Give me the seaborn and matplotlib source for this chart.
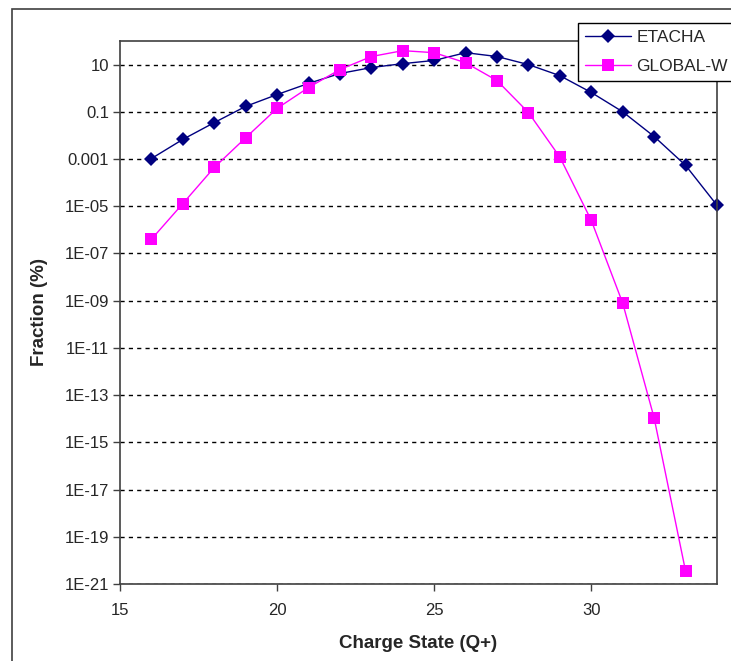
import matplotlib
matplotlib.use('Agg')
import matplotlib.pyplot as plt
import matplotlib.patches as mpatches
import pandas as pd
import seaborn as sns

# charge states and fractions (%)
charge = list(range(16, 35))
etacha = [1.05e-3, 6.8e-3, 0.035, 0.17, 0.54, 1.6, 4.2, 7.5, 11, 15, 32, 22, 10, 3.4, 0.66, 0.1, 9e-3, 5.4e-4, 1.1e-5]
charge_g = list(range(16, 34))
global_w = [4e-7, 1.3e-5, 4.4e-4, 8e-3, 0.14, 1.07, 6.2, 22, 39, 32, 12, 2.1, 0.093, 1.2e-3, 2.5e-6, 7.8e-10, 1.07e-14, 3.5e-21]

ytick_vals = [1e-21, 1e-19, 1e-17, 1e-15, 1e-13, 1e-11, 1e-9, 1e-7, 1e-5, 1e-3, 0.1, 10]
ytick_labels = ['1E-21', '1E-19', '1E-17', '1E-15', '1E-13', '1E-11', '1E-09', '1E-07', '1E-05', '0.001', '0.1', '10']
xtick_vals = [15, 20, 25, 30]

df = pd.concat([
    pd.DataFrame({'Charge': charge, 'Fraction': etacha, 'Model': 'ETACHA'}),
    pd.DataFrame({'Charge': charge_g, 'Fraction': global_w, 'Model': 'GLOBAL-W'}),
])

sns.set_style('white')
plt.rcParams['font.family'] = ['Liberation Sans', 'DejaVu Sans']

fig = plt.figure(figsize=(7.31, 6.61), dpi=100)
ax = fig.add_axes([120/731, 1-584/661, (717-120)/731, (584-41)/661])

sns.lineplot(data=df, x='Charge', y='Fraction', hue='Model', style='Model',
             palette={'ETACHA': '#000080', 'GLOBAL-W': '#FF00FF'},
             markers={'ETACHA': 'D', 'GLOBAL-W': 's'}, dashes=False,
             markersize=7, markeredgewidth=0, linewidth=1, ax=ax, legend=False)
for ln in ax.lines:
    if ln.get_marker() == 's':
        ln.set_markersize(8)
    ln.set_clip_on(False)

ax.set_yscale('log')
ax.set_ylim(1e-21, 100)
ax.set_xlim(15, 34)
ax.set_yticks(ytick_vals)
ax.set_yticklabels(ytick_labels)
ax.minorticks_off()
ax.set_xticks(xtick_vals)
ax.tick_params(axis='both', direction='out', length=5, width=1, color='#404040',
               labelsize=12, left=True, bottom=True)
ax.tick_params(axis='x', pad=9)
ax.tick_params(axis='y', pad=3)
ax.yaxis.grid(True, linestyle=(0, (3, 3)), color='black', linewidth=1)
ax.xaxis.grid(False)
for s in ax.spines.values():
    s.set_color('#404040')
    s.set_linewidth(1.2)

ax.set_xlabel('Charge State (Q+)', fontsize=13.5, fontweight='bold', labelpad=12)
ax.set_ylabel('Fraction (%)', fontsize=13.5, fontweight='bold', labelpad=12)

handles = [
    plt.Line2D([], [], color='#000080', marker='D', markersize=7, markeredgewidth=0, lw=1),
    plt.Line2D([], [], color='#FF00FF', marker='s', markersize=8, markeredgewidth=0, lw=1),
]
leg = fig.legend(handles, ['ETACHA', 'GLOBAL-W'], loc='upper left',
                 bbox_to_anchor=(578/731, 1-23/661), frameon=True, fancybox=False,
                 edgecolor='black', framealpha=1, fontsize=12.5, handlelength=2.65,
                 labelspacing=0.8, borderpad=0.4, handletextpad=0.3, borderaxespad=0)
leg.get_frame().set_linewidth(1)

fig.patches.append(mpatches.Rectangle((12/731, -0.1), 1.0, 1.1 - 9/661,
                                      transform=fig.transFigure, fill=False,
                                      edgecolor='#404040', linewidth=1.2))

fig.savefig('out.png', dpi=100)
